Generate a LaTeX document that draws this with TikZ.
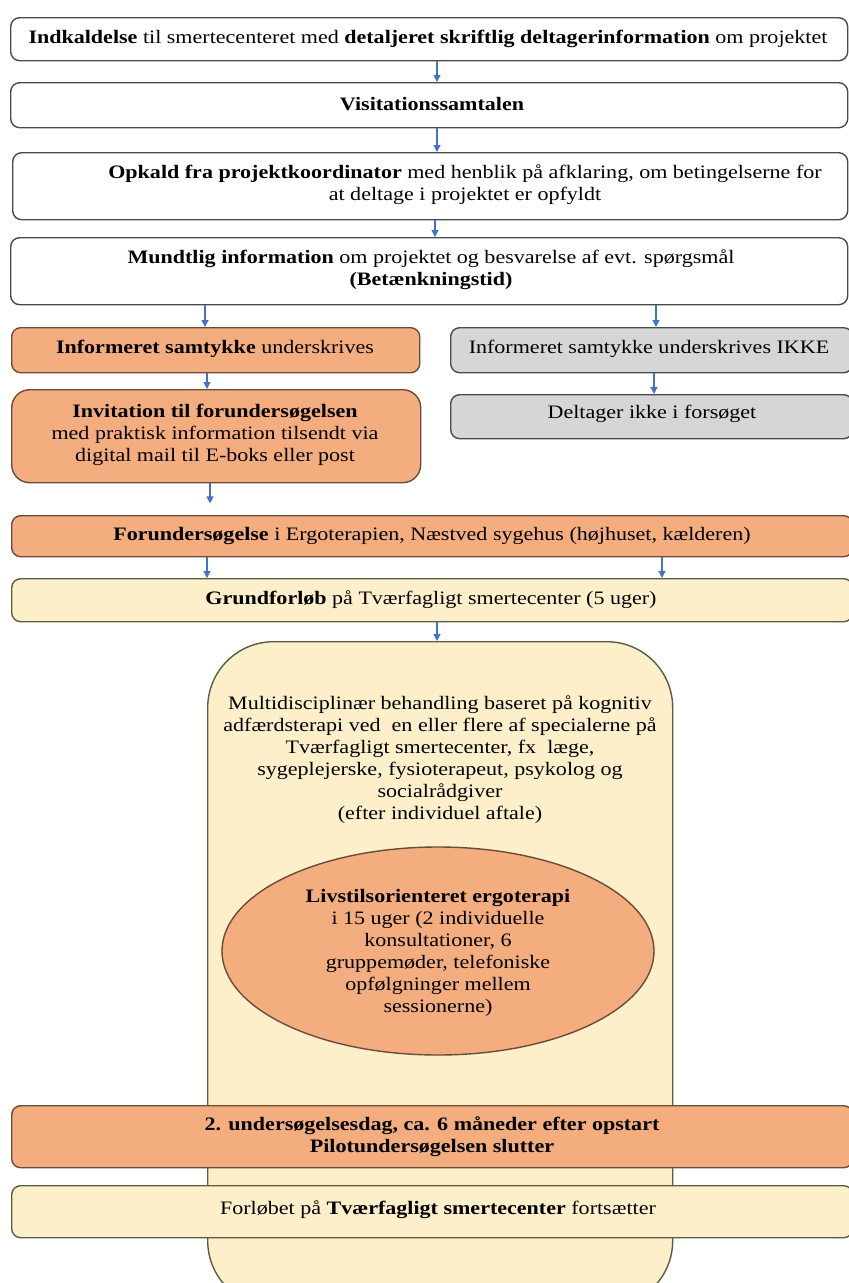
\documentclass[tikz,border=0pt]{standalone}
\usepackage{fontspec}
\setmainfont[FakeStretch=1.16]{Liberation Serif}
\usetikzlibrary{arrows.meta,shapes.geometric}

\definecolor{edgegray}{HTML}{4A4A4A}
\definecolor{edgebrown}{HTML}{6A4C3A}
\definecolor{fillorange}{HTML}{F4AD7F}
\definecolor{fillyellow}{HTML}{FCEFCA}
\definecolor{fillgray}{HTML}{D6D6D6}
\definecolor{arrowblue}{HTML}{4472C4}

\tikzset{
  base/.style={rectangle, rounded corners=9pt, line width=1.4pt, inner sep=0pt, anchor=north west},
  whitebox/.style={base, draw=edgegray, fill=white},
  orangebox/.style={base, draw=edgebrown, fill=fillorange},
  yellowbox/.style={base, draw=edgegray!90!yellow, fill=fillyellow},
  graybox/.style={base, draw=edgegray, fill=fillgray},
  txt/.style={font=\fontsize{19}{22}\selectfont, align=center, inner sep=0pt},
  arr/.style={draw=arrowblue, line width=1.2pt, -{Triangle[length=7pt,width=7pt]}}
}

\begin{document}
\begin{tikzpicture}[x=1pt, y=-1pt]
\clip (0,0) rectangle (849,1283);
\fill[white] (0,0) rectangle (849,1283);

% Upper white boxes
\node[whitebox, minimum width=837pt, minimum height=43pt] (b1) at (10,17) {};
\node[txt] (t1) at (428,39) {\textbf{Indkaldelse} til smertecenteret med \textbf{detaljeret skriftlig deltagerinformation} om projektet};

\node[whitebox, minimum width=837pt, minimum height=45pt] (b2) at (10,82) {};
\node[txt] (t2) at (432,104) {\textbf{Visitationssamtalen}};

\node[whitebox, minimum width=835pt, minimum height=67pt] (b3) at (12,152) {};
\node[txt] (t3) at (465,185) {\textbf{Opkald fra projektkoordinator} med henblik på afklaring, om betingelserne for\\ at deltage i projektet er opfyldt};

\node[whitebox, minimum width=837pt, minimum height=67pt] (b4) at (10,237) {};
\node[txt] (t4) at (431,270) {\textbf{Mundtlig information} om projektet og besvarelse af evt. spørgsmål\\ \textbf{(Betænkningstid)}};

% Two branches
\node[orangebox, minimum width=408pt, minimum height=45pt] (o1) at (11,327) {};
\node[txt] (to1) at (215,349) {\textbf{Informeret samtykke} underskrives};

\node[graybox, minimum width=402pt, minimum height=45pt] (g1) at (450,327) {};
\node[txt] (tg1) at (649,349) {Informeret samtykke underskrives IKKE};

\node[orangebox, rounded corners=18pt, minimum width=409pt, minimum height=93pt] (o2) at (11,389) {};
\node[txt] (to2) at (215,435) {\textbf{Invitation til forundersøgelsen}\\ med praktisk information tilsendt via\\ digital mail til E-boks eller post};

\node[graybox, minimum width=402pt, minimum height=44pt] (g2) at (450,394) {};
\node[txt] (tg2) at (652,414) {Deltager ikke i forsøget};

% Pre-examination and basic course
\node[orangebox, minimum width=841pt, minimum height=41pt] (f1) at (11,515) {};
\node[txt] (tf1) at (432,536) {\textbf{Forundersøgelse} i Ergoterapien, Næstved sygehus (højhuset, kælderen)};

\node[yellowbox, minimum width=841pt, minimum height=43pt] (gr) at (11,578) {};
\node[txt] (tgr) at (431,600) {\textbf{Grundforløb} på Tværfagligt smertecenter (5 uger)};

% Long treatment column
\node[yellowbox, rounded corners=66pt, minimum width=465pt, minimum height=665pt] (big) at (207,641) {};
\node[txt] (tbig) at (440,760) {Multidisciplinær behandling baseret på kognitiv\\ adfærdsterapi ved\ \ en eller flere af specialerne på\\ Tværfagligt smertecenter, fx\ \ læge,\\ sygeplejerske, fysioterapeut, psykolog og\\ socialrådgiver\\ (efter individuel aftale)};

\node[ellipse, draw=edgebrown, line width=1.4pt, fill=fillorange, minimum width=432pt, minimum height=208pt, inner sep=0pt] (ell) at (438,951) {};
\node[txt] (tell) at (438,953) {\textbf{Livstilsorienteret ergoterapi}\\ i 15 uger (2 individuelle\\ konsultationer, 6\\ gruppemøder, telefoniske\\ opfølgninger mellem\\ sessionerne)};

% Follow-up and continuation
\node[orangebox, minimum width=841pt, minimum height=62pt] (u2) at (11,1105) {};
\node[txt] (tu2) at (432,1137) {\textbf{2. undersøgelsesdag, ca. 6 måneder efter opstart}\\ \textbf{Pilotundersøgelsen slutter}};

\node[yellowbox, minimum width=841pt, minimum height=52pt] (fo) at (11,1185) {};
\node[txt] (tfo) at (438,1210) {Forløbet på \textbf{Tværfagligt smertecenter} fortsætter};

% Connectors
\draw[arr] (b1.south -| 437,0) -- (b2.north -| 437,0);
\draw[arr] (b2.south -| 437,0) -- (b3.north -| 437,0);
\draw[arr] (b3.south -| 435,0) -- (b4.north -| 435,0);
\draw[arr] (b4.south -| 205,0) -- (o1.north -| 205,0);
\draw[arr] (b4.south -| 656,0) -- (g1.north -| 656,0);
\draw[arr] (o1.south -| 207,0) -- (o2.north -| 207,0);
\draw[arr] (g1.south -| 654,0) -- (g2.north -| 654,0);
\draw[arr] (o2.south -| 210,0) -- ++(0,20);
\draw[arr] (f1.south -| 207,0) -- (gr.north -| 207,0);
\draw[arr] (f1.south -| 662,0) -- (gr.north -| 662,0);
\draw[arr] (gr.south -| 437,0) -- (big.north -| 437,0);
\end{tikzpicture}
\end{document}
